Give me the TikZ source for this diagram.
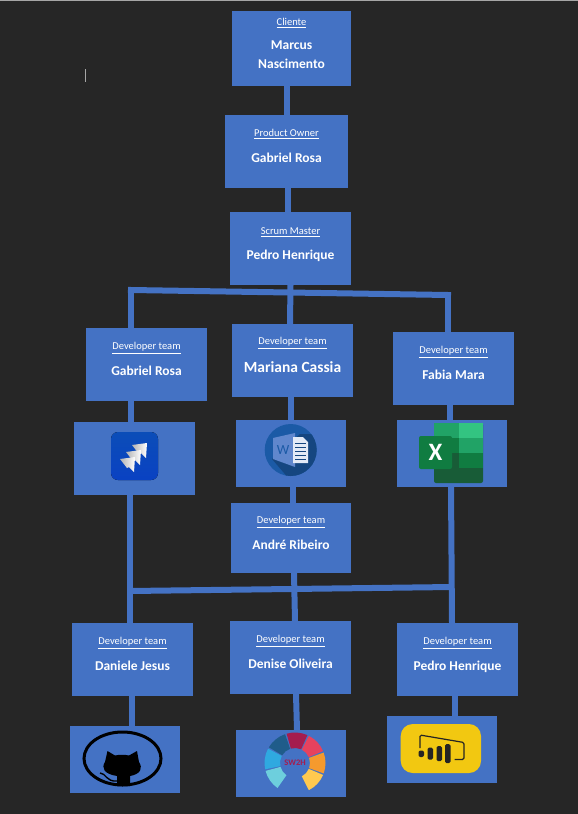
\documentclass[tikz,border=0pt]{standalone}
\usepackage{fontspec}
\setmainfont{Carlito}
\usetikzlibrary{positioning}
\definecolor{cBg}{HTML}{262626}
\definecolor{cBox}{HTML}{4472C4}
\definecolor{cInk}{HTML}{252423}
\definecolor{cJira}{HTML}{0B4DB8}
\definecolor{cWord}{HTML}{1B5AA6}
\definecolor{cWordD}{HTML}{154680}
\definecolor{cXlA}{HTML}{21A366}
\definecolor{cXlB}{HTML}{33C481}
\definecolor{cXlC}{HTML}{107C41}
\definecolor{cXlD}{HTML}{185C37}
\definecolor{cPbi}{HTML}{F2C811}
\definecolor{cSwA}{HTML}{6DCFDD}
\definecolor{cSwB}{HTML}{2FA9E0}
\definecolor{cSwC}{HTML}{1F5C8A}
\definecolor{cSwD}{HTML}{A51C4E}
\definecolor{cSwE}{HTML}{E6425E}
\definecolor{cSwF}{HTML}{F59A2E}
\definecolor{cSwG}{HTML}{FFC94F}

\begin{document}
\begin{tikzpicture}[
  x=1pt, y=-1pt,
  box/.style={fill=cBox, text=white, align=center, inner sep=0pt, outer sep=0pt, minimum width=121pt, minimum height=73pt},
  member/.style={box, font=\fontsize{13.5}{18}\bfseries\selectfont, text height=22pt, text depth=0pt},
  logobox/.style={box, minimum width=110pt, minimum height=67pt},
  role/.style={anchor=center, yshift=-#1, inner sep=0pt, text=white, font=\fontsize{10.5}{12}\selectfont},
  role/.default=20pt,
  link/.style={draw=cBox, line width=6pt},
]
\useasboundingbox (0,0) rectangle (578,814);
\fill[cBg] (0,0) rectangle (578,814);
\fill[black!35] (0,0) rectangle (578,1);
\draw[black!35, line width=1pt] (85.5,69) -- (85.5,82);

% top of the chain
\node[member, minimum width=119pt, minimum height=75pt, text height=39pt, text depth=0pt,
  label={[role=12pt]north:\underline{Cliente}}] (cliente) at (291.5,48.5) {Marcus\\[1pt]Nascimento};
\node[member, minimum width=123pt, label={[role=19pt]north:\underline{Product Owner}},
  below=29pt of cliente, xshift=-5pt] (po) {Gabriel Rosa};
\node[member, label={[role]north:\underline{Scrum Master}},
  below=24pt of po, xshift=4pt] (sm) {Pedro Henrique};

% first row of developers
\node[member, font=\fontsize{15.5}{18}\bfseries\selectfont, text height=24pt, label={[role=19pt]north:\underline{Developer team}},
  below=39pt of sm, xshift=2pt] (mariana) {Mariana Cassia};
\node[member, label={[role]north:\underline{Developer team}},
  left=25pt of mariana, yshift=-4pt] (gabriel) {Gabriel Rosa};
\node[member, label={[role]north:\underline{Developer team}},
  right=40pt of mariana, yshift=-8pt] (fabia) {Fabia Mara};

% logos under them
\node[box, below=21pt of gabriel, xshift=-12pt] (jira) {};
\node[logobox, below=23pt of mariana, xshift=-1.5pt] (word) {};
\node[logobox, below=15pt of fabia, xshift=-1.5pt] (excel) {};
\node[member, minimum width=120pt, minimum height=70pt, label={[role=19pt]north:\underline{Developer team}},
  below=16pt of word] (andre) {André Ribeiro};

% second row of developers
\node[member, label={[role]north:\underline{Developer team}},
  below=48pt of andre, xshift=-.5pt] (denise) {Denise Oliveira};
\node[member, label={[role]north:\underline{Developer team}},
  left=37pt of denise, yshift=-2pt] (daniele) {Daniele Jesus};
\node[member, label={[role]north:\underline{Developer team}},
  right=46pt of denise, yshift=-2pt] (pedro) {Pedro Henrique};
\node[logobox, below=30pt of daniele, xshift=-7.5pt] (github) {};
\node[logobox, below=36pt of denise, xshift=.5pt] (swh) {};
\node[logobox, below=20pt of pedro, xshift=-15.5pt] (pbi) {};

% links down the chain
\draw[link] ([xshift=-5pt]cliente.south) -- (po.north);
\draw[link] ([xshift=1.5pt]po.south) -- ([xshift=-2.5pt]sm.north);
\draw[link] (sm.south) -- ([xshift=-2.5pt]mariana.north);
\coordinate (busA) at (131,290);
\coordinate (busB) at (448,295);
\draw[link, line cap=rect] (busA) -- (busB);
\draw[link] (busA) -- ([xshift=-15.5pt]gabriel.north);
\draw[link] (busB) -- ([xshift=-5.5pt]fabia.north);
\draw[link] ([xshift=-15.5pt]gabriel.south) -- ([xshift=-3.5pt]jira.north);
\draw[link] ([xshift=-1.5pt]mariana.south) -- (word.north);
\draw[link] ([xshift=-3.5pt]fabia.south) -- ([xshift=-2pt]excel.north);
\draw[link] ([xshift=2pt]word.south) -- ([xshift=2pt]andre.north);
% second bus
\draw[link] ([xshift=-4.5pt]jira.south) -- ([xshift=-2.5pt]daniele.north);
\draw[link] ([xshift=-1pt]excel.south) -- ([xshift=-5.5pt]pedro.north);
\draw[link] ([xshift=3pt]andre.south) -- ([xshift=4.5pt]denise.north);
\coordinate (busC) at (130,591);
\coordinate (busD) at (452,587);
\draw[link] (busC) -- (busD);
\draw[link] ([xshift=-.5pt]daniele.south) -- ([xshift=7pt]github.north);
\draw[link] ([xshift=5.5pt]denise.south) -- ([xshift=6pt]swh.north);
\draw[link] ([xshift=-2.5pt]pedro.south) -- ([xshift=13pt]pbi.north);

% jira logo
\fill[rounded corners=7pt, top color=cJira, bottom color=cJira!85!blue] (111,432) rectangle (158,480);
\foreach \dx/\dy in {0/0,-6/7,-12/14}
  \shade[left color=black!30, right color=white, shift={(\dx,\dy)}]
    (132,445) -- (147,443) -- (146,458) -- (141,453) -- (139,454) -- cycle;

% word logo
\fill[cWord] (290.7,450) circle[radius=26pt];
\begin{scope}
  \clip (290.7,450) circle[radius=26pt];
  \fill[cWordD] (272,459) -- (300,434) -- (320,434) -- (320,480) -- (290,480) -- cycle;
\end{scope}
\fill[cBox!85!white] (273,438) -- (295,433) -- (295,467) -- (273,459) -- cycle;
\fill[white!85!cBox] (293,437) -- (303,437) -- (308,442) -- (308,463) -- (293,463) -- cycle;
\foreach \ly in {443,447,451,455,459}
  \draw[cWordD, line width=.8pt] (295,\ly) -- (306,\ly);
\node[text=cWord, font=\fontsize{14}{14}\selectfont, inner sep=0pt] (wordmark) at (283,450) {W};

% excel logo
\fill[cXlD, rounded corners=2pt] (434,423) rectangle (483,483);
\fill[cXlA] (434,423) rectangle (459,438);
\fill[cXlB] (459,423) rectangle (483,438);
\fill[cXlC] (434,438) rectangle (459,453);
\fill[cXlA] (459,438) rectangle (483,453);
\fill[cXlD] (434,453) rectangle (459,468);
\fill[cXlC] (459,453) rectangle (483,468);
\fill[cXlC, rounded corners=2pt] (419,436) rectangle (452,469);
\node[text=white, font=\fontsize{25}{25}\bfseries\selectfont, inner sep=0pt] (xlmark) at (435.5,452.5) {X};

% github logo
\draw[black, line width=3pt] (122.5,758.5) ellipse[x radius=38.5pt, y radius=26.5pt];
\fill[black] (107.5,751) -- (115,755.5) .. controls (119,754.5) and (125,754.5) .. (129,755.5)
  -- (137,751) -- (139,762) .. controls (143,768) and (141,774) .. (130,776)
  -- (130,786) -- (117,786) -- (117,776) .. controls (104,774) and (101,768) .. (105,762) -- cycle;
\draw[black, line width=1.4pt] (100,773) .. controls (106,773) and (106,782) .. (117,781);

% sw2h wheel
\begin{scope}[shift={(295,763)}, y=1pt]
  \foreach \col/\from/\to in {cSwA/-125/-165, cSwB/-168/-208, cSwC/-211/-251, cSwD/-254/-294,
      cSwE/-297/-337, cSwF/-340/-380, cSwG/-383/-423}
    \fill[\col] (\from:30.5pt) arc[start angle=\from, end angle=\to, radius=30.5pt] -- (\to:15pt)
      arc[start angle=\to, end angle=\from, radius=15pt] -- cycle;
  \node[text=cSwD, font=\fontsize{8.5}{9}\bfseries\selectfont, inner sep=0pt] (swmark) at (0,0) {SW2H};
\end{scope}

% power bi logo
\fill[cPbi, rounded corners=12pt] (400.7,724) rectangle (481,773);
\draw[cInk, line width=1.2pt, rounded corners=1.5pt] (420,748) -- (420,735) -- (464,742.5) -- (464,759.5) -- (454.5,759.5);
\fill[cInk, rounded corners=2pt] (418.5,750.5) rectangle (424,757);
\fill[cInk, rounded corners=1.5pt] (427.5,747.5) rectangle (433,759.5);
\fill[cInk, rounded corners=1.5pt] (436.5,746) rectangle (442,761);
\fill[cInk, rounded corners=1.5pt] (445,744) rectangle (450.5,763);
\end{tikzpicture}
\end{document}
